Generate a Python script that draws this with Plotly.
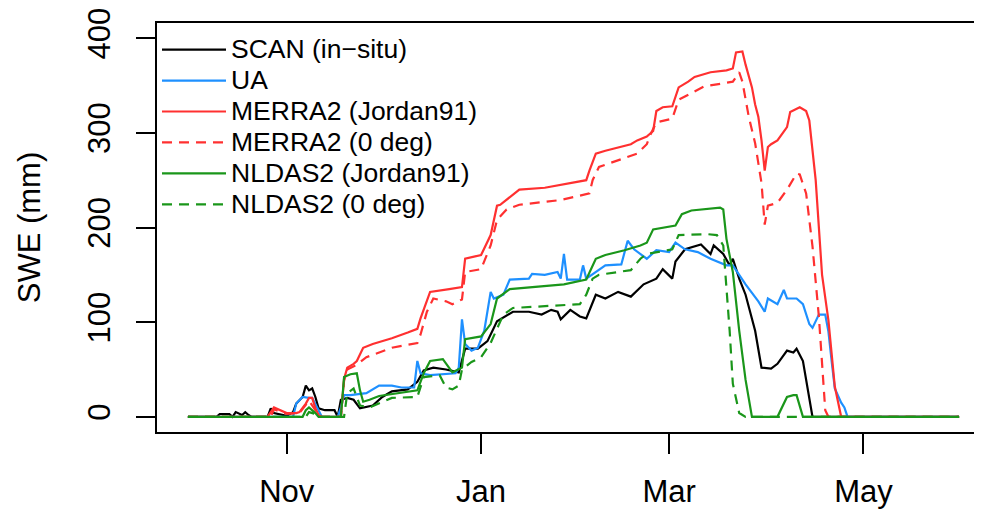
import pandas as pd
import plotly.graph_objects as go

# SWE at a snow station, water year, day 0 = 1 Oct
season_start = pd.Timestamp("2014-10-01")

scan_day = [0, 9, 10, 13, 14, 15, 17, 18, 19, 20, 25, 26, 27, 31, 33, 34, 36, 37, 38, 39, 40, 41, 43, 46, 47,
            48, 50, 52, 54, 58, 61, 64, 69, 72, 74, 77, 81, 85, 87, 91, 94, 97, 102, 107, 111, 114, 116, 117,
            120, 123, 125, 128, 131, 135, 139, 143, 147, 149, 152, 153, 156, 158, 161, 164, 165, 168, 170,
            171, 173, 175, 178, 180, 183, 185, 188, 190, 191, 193, 195, 196, 242]
scan_swe = [0, 0, 3, 3, 0, 5, 2, 5, 2, 0, 0, 9, 4, 1, 5, 14, 21, 33, 28, 30, 21, 9, 7, 7, 0,
            18, 20, 18, 9, 12, 21, 27, 29, 37, 49, 52, 50, 47, 72, 72, 80, 101, 111, 111, 108, 113, 111, 103,
            113, 106, 104, 129, 125, 132, 127, 140, 146, 156, 146, 164, 177, 179, 182, 172, 181, 172, 160,
            167, 146, 129, 91, 52, 51, 56, 70, 68, 72, 59, 21, 0, 0]

ua_day = [0, 33, 34, 36, 38, 39, 41, 42, 47, 48, 49, 51, 56, 60, 64, 67, 71, 72, 73, 76, 84, 85, 86, 87, 89,
          91, 93, 95, 96, 99, 101, 107, 108, 112, 116, 117, 118, 119, 123, 124, 125, 128, 131, 136, 138, 140,
          144, 147, 151, 153, 156, 160, 164, 169, 171, 175, 179, 181, 182, 185, 187, 188, 191, 193, 195, 196,
          198, 200, 201, 202, 203, 205, 206, 207, 242]
ua_swe = [0, 0, 14, 21, 20, 20, 7, 0, 0, 10, 23, 23, 25, 33, 33, 31, 31, 59, 46, 44, 46, 52, 103, 77, 70,
          73, 91, 132, 125, 129, 145, 146, 151, 150, 153, 146, 172, 145, 145, 160, 146, 153, 160, 161, 186, 177,
          167, 176, 174, 184, 177, 174, 167, 160, 160, 140, 122, 111, 125, 119, 134, 125, 125, 119, 98, 94,
          108, 108, 90, 59, 30, 15, 10, 0, 0]

merra_j_day = [0, 25, 27, 29, 31, 34, 35, 37, 38, 39, 40, 41, 42, 48, 49, 50, 52, 53, 55, 58, 64, 69, 72, 73,
               76, 82, 86, 87, 92, 95, 97, 98, 104, 112, 117, 123, 125, 126, 128, 131, 139, 141, 144, 145, 146,
               147, 149, 152, 154, 157, 159, 164, 169, 171, 172, 174, 175, 177, 178, 179, 180, 181, 182, 183,
               185, 188, 189, 192, 194, 195, 197, 199, 201, 203, 205, 242]
merra_j_swe = [0, 0, 10, 7, 4, 4, 5, 14, 20, 20, 9, 2, 0, 0, 40, 52, 56, 59, 73, 77, 83, 89, 93, 104,
               132, 135, 137, 167, 171, 192, 223, 224, 240, 242, 245, 249, 250, 260, 278, 281, 288, 292, 296, 299, 302,
               323, 327, 328, 348, 354, 359, 364, 366, 368, 385, 386, 372, 348, 330, 317, 292, 260, 285, 288,
               292, 306, 322, 327, 323, 313, 250, 150, 102, 32, 0, 0]

merra_0_day = [0, 26, 27, 31, 35, 38, 40, 41, 48, 49, 50, 53, 56, 64, 72, 73, 75, 77, 81, 83, 86, 87, 92, 95,
               97, 100, 104, 117, 126, 127, 129, 141, 144, 145, 147, 152, 154, 158, 162, 171, 173, 174, 176, 178,
               180, 181, 182, 185, 188, 191, 192, 194, 196, 198, 200, 201, 242]
merra_0_swe = [0, 0, 8, 3, 4, 17, 7, 0, 0, 38, 50, 55, 63, 73, 78, 87, 111, 125, 122, 119, 124, 153, 156, 181,
               208, 219, 224, 229, 236, 250, 264, 278, 288, 297, 311, 315, 335, 342, 349, 354, 364, 354, 317, 289,
               247, 203, 223, 226, 240, 257, 256, 236, 180, 106, 7, 0, 0]

nldas_j_day = [0, 36, 37, 38, 40, 41, 48, 49, 51, 53, 54, 55, 57, 60, 72, 74, 76, 80, 83, 86, 87, 92, 95, 97,
               101, 118, 125, 128, 131, 137, 142, 144, 146, 150, 153, 155, 158, 167, 168, 169, 171, 173, 175,
               177, 185, 188, 190, 191, 193, 242]
nldas_j_swe = [0, 0, 7, 10, 4, 0, 0, 42, 45, 46, 28, 16, 18, 22, 28, 46, 59, 61, 47, 52, 82, 85, 98, 125,
               135, 140, 145, 167, 171, 176, 181, 184, 198, 200, 202, 214, 218, 221, 219, 188, 153, 91, 39,
               0, 0, 21, 23, 23, 0, 0]

nldas_0_day = [0, 37, 38, 40, 41, 49, 50, 52, 54, 57, 64, 72, 74, 79, 81, 83, 85, 86, 89, 92, 95, 99, 102,
               123, 125, 127, 129, 139, 142, 144, 152, 154, 163, 166, 168, 169, 170, 171, 173, 175, 242]
nldas_0_swe = [0, 0, 5, 3, 0, 0, 25, 30, 12, 10, 20, 21, 42, 44, 31, 29, 33, 50, 58, 63, 78, 108, 115,
               119, 129, 146, 150, 155, 167, 172, 177, 192, 193, 192, 181, 140, 91, 35, 4, 0, 0]

tick_dates = ["2014-11-01", "2015-01-01", "2015-03-01", "2015-05-01"]
tick_labels = ["Nov", "Jan", "Mar", "May"]
y_ticks = [0, 100, 200, 300, 400]


def to_dates(days):
    return season_start + pd.to_timedelta(days, unit="D")


series = [
    ("SCAN (in\u2212situ)", scan_day, scan_swe, "black", "solid"),
    ("UA", ua_day, ua_swe, "#1E90FF", "solid"),
    ("MERRA2 (Jordan91)", merra_j_day, merra_j_swe, "#FF3030", "solid"),
    ("MERRA2 (0 deg)", merra_0_day, merra_0_swe, "#FF3030", "10px,7px"),
    ("NLDAS2 (Jordan91)", nldas_j_day, nldas_j_swe, "#1A961A", "solid"),
    ("NLDAS2 (0 deg)", nldas_0_day, nldas_0_swe, "#1A961A", "10px,7px"),
]

fig = go.Figure()
for name, d, v, col, dash in series:
    fig.add_trace(go.Scatter(
        x=to_dates(d), y=v, mode="lines",
        name='<span style="font-size:26.5px">' + name + '</span>',
        line=dict(color=col, width=2.2, dash=dash),
    ))

font = "Liberation Sans, Arial, sans-serif"
# R-style 4% padding around the season
x_lo = season_start - pd.Timedelta(days=9.7)
x_hi = season_start + pd.Timedelta(days=251.7)

fig.update_layout(
    width=982, height=510,
    margin=dict(l=149, r=0, t=9, b=86),
    paper_bgcolor="white", plot_bgcolor="white",
    font=dict(family=font, color="black"),
    showlegend=True,
    legend=dict(
        x=0.0, y=0.985, xanchor="left", yanchor="top",
        font=dict(size=21.5, family=font),
        bgcolor="rgba(0,0,0,0)", itemwidth=64,
        tracegroupgap=0,
    ),
    xaxis=dict(
        type="date", range=[x_lo, x_hi],
        tickvals=tick_dates, ticktext=tick_labels,
        ticks="outside", ticklen=20, tickwidth=2, tickcolor="black",
        tickfont=dict(size=31, family=font),
        ticklabelstandoff=11, ticklabeloverflow="allow",
        showline=True, linecolor="black", linewidth=2, mirror=True,
        showgrid=False, zeroline=False,
    ),
    yaxis=dict(
        range=[-16, 416],
        tickvals=y_ticks,
        ticks="outside", ticklen=19, tickwidth=2, tickcolor="black",
        tickfont=dict(size=31, family=font), tickangle=-90,
        ticklabelstandoff=14, ticklabeloverflow="allow",
        showline=True, linecolor="black", linewidth=2, mirror=False,
        showgrid=False, zeroline=False,
        title=dict(text="SWE (mm)", font=dict(size=31, family=font), standoff=32),
    ),
)

fig.write_html("out.html")
